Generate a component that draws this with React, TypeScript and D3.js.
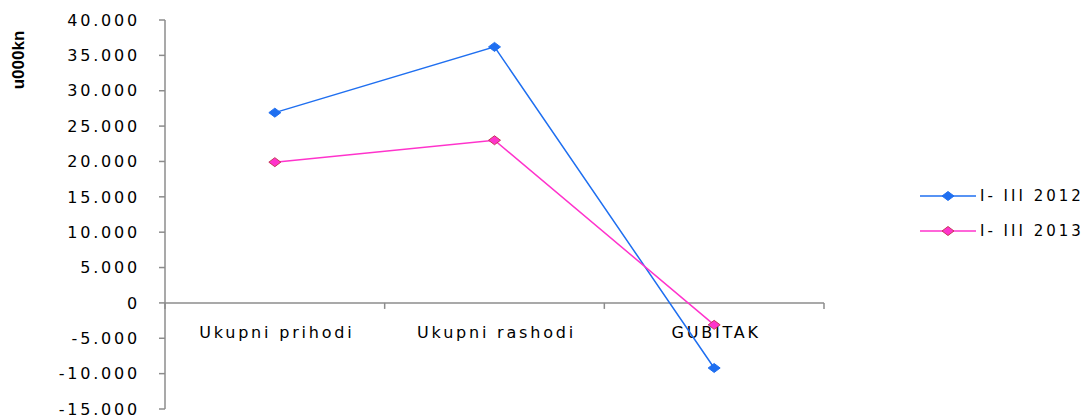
import * as d3 from "d3";

const CATEGORIES = ["Ukupni prihodi", "Ukupni rashodi", "GUBITAK"];
const SERIES_NAMES = ["I- III 2012", "I- III 2013"];
const VALUES_2012 = [26900, 36200, -9200];
const VALUES_2013 = [19900, 23000, -3100];
const Y_TICKS = [40000, 35000, 30000, 25000, 20000, 15000, 10000, 5000, 0, -5000, -10000, -15000];
const COLORS = ["#1f6ff0", "#ff33cc"];
const MARKER_STROKE = ["#1f6ff0", "#c8385a"];

const W = 1092;
const H = 417;
const AXIS_COLOR = "#8c8c8c";
const FONT = "'DejaVu Sans', Verdana, sans-serif";

const fmt = d3.formatLocale({
  decimal: ",",
  thousands: ".",
  grouping: [3],
  currency: ["", ""],
  minus: "-",
}).format(",");

export default function App() {
  const x = d3.scaleBand<string>().domain(CATEGORIES).range([165, 824]);
  const y = d3.scaleLinear().domain([-15000, 40000]).range([409, 20]);
  const line = d3
    .line<number>()
    .x((_, i) => (x(CATEGORIES[i]) as number) + x.bandwidth() / 2)
    .y((d) => y(d));

  const series = [VALUES_2012, VALUES_2013];
  const diamond = (cx: number, cy: number) =>
    `M${cx - 6},${cy} L${cx},${cy - 4.5} L${cx + 6},${cy} L${cx},${cy + 4.5} Z`;

  const boundaries = [...CATEGORIES.map((c) => x(c) as number), x.range()[1]];

  return (
    <div style={{ position: "absolute", left: 0, top: 0 }}>
      <svg width={W} height={H} style={{ display: "block", background: "#fff" }}>
        {/* y title */}
        <text
          transform="translate(24,60) rotate(-90)"
          textAnchor="middle"
          fontFamily="'Liberation Sans', Arial, sans-serif"
          fontWeight="bold"
          fontSize={17}
          fill="#000"
        >
          u000kn
        </text>

        {/* y axis */}
        <line x1={165} x2={165} y1={y(40000)} y2={y(-15000)} stroke={AXIS_COLOR} strokeWidth={1.5} />
        {Y_TICKS.map((t) => (
          <g key={t}>
            <line x1={159} x2={165} y1={y(t)} y2={y(t)} stroke={AXIS_COLOR} strokeWidth={1.5} />
            <text
              x={140}
              y={y(t)}
              dy="0.36em"
              textAnchor="end"
              fontFamily={FONT}
              fontSize={16}
              letterSpacing={2.8}
              fill="#000"
            >
              {fmt(t)}
            </text>
          </g>
        ))}

        {/* x axis at zero */}
        <line x1={165} x2={824} y1={y(0)} y2={y(0)} stroke={AXIS_COLOR} strokeWidth={1.5} />
        {boundaries.map((b, i) => (
          <line key={i} x1={b} x2={b} y1={y(0)} y2={y(0) + 6} stroke={AXIS_COLOR} strokeWidth={1.5} />
        ))}
        {CATEGORIES.map((c) => (
          <text
            key={c}
            x={(x(c) as number) + x.bandwidth() / 2 + 2}
            y={338}
            textAnchor="middle"
            fontFamily={FONT}
            fontSize={16}
            letterSpacing={2.8}
            fill="#000"
          >
            {c}
          </text>
        ))}

        {/* series */}
        {series.map((vals, si) => (
          <g key={si}>
            <path d={line(vals) as string} fill="none" stroke={COLORS[si]} strokeWidth={1.5} />
            {vals.map((v, i) => (
              <path
                key={i}
                d={diamond((x(CATEGORIES[i]) as number) + x.bandwidth() / 2, y(v))}
                fill={COLORS[si]}
                stroke={MARKER_STROKE[si]}
                strokeWidth={1}
              />
            ))}
          </g>
        ))}

        {/* legend */}
        {SERIES_NAMES.map((name, si) => {
          const ly = 196 + si * 35;
          return (
            <g key={name}>
              <line x1={920} x2={976} y1={ly} y2={ly} stroke={COLORS[si]} strokeWidth={1.5} />
              <path d={diamond(948, ly)} fill={COLORS[si]} stroke={MARKER_STROKE[si]} strokeWidth={1} />
              <text
                x={980}
                y={ly}
                dy="0.36em"
                fontFamily={FONT}
                fontSize={15}
                letterSpacing={3}
                fill="#000"
              >
                {name}
              </text>
            </g>
          );
        })}
      </svg>
    </div>
  );
}
